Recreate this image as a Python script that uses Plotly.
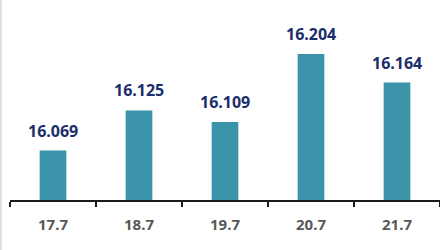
import plotly.graph_objects as go

categories = ["17.7", "18.7", "19.7", "20.7", "21.7"]
values = [16.069, 16.125, 16.109, 16.204, 16.164]
labels = ["16.069", "16.125", "16.109", "16.204", "16.164"]

BAR = "#3a93a8"
NAVY = "#1b2d6b"
GRAY = "#585858"

fig = go.Figure()
fig.add_trace(go.Bar(
    x=categories, y=values, marker=dict(color=BAR, line=dict(width=0)),
    hoverinfo="skip",
))

for i, (v, t) in enumerate(zip(values, labels)):
    fig.add_annotation(x=i, y=v, text=t, showarrow=False, yanchor="bottom",
                       yshift=7, font=dict(family="Noto Sans", size=16, color=NAVY,
                                           weight="bold"))

fig.add_shape(type="line", xref="paper", yref="paper", x0=-0.0209, x1=-0.0209,
              y0=-0.25, y1=1, line=dict(color="#d6e2e8", width=2))

fig.update_layout(
    width=440, height=250,
    margin=dict(l=10, r=0, t=0, b=50),
    paper_bgcolor="white", plot_bgcolor="white",
    bargap=0.69, showlegend=False,
    xaxis=dict(type="category", range=[-0.5, len(categories) - 0.5],
               showline=True, linecolor="#1a1a1a", linewidth=2,
               ticks="outside", tickson="boundaries", ticklen=5, tickwidth=1.5,
               tickcolor="#1a1a1a", showgrid=False, tickangle=0,
               ticklabelstandoff=10,
               tickfont=dict(family="Noto Sans", size=15, color=GRAY, weight="bold")),
    yaxis=dict(range=[16.0, 16.2793], visible=False, showgrid=False, zeroline=False),
)

fig.write_html("out.html", config={"displayModeBar": False, "staticPlot": True},
               post_script="document.body.style.margin='0';")
